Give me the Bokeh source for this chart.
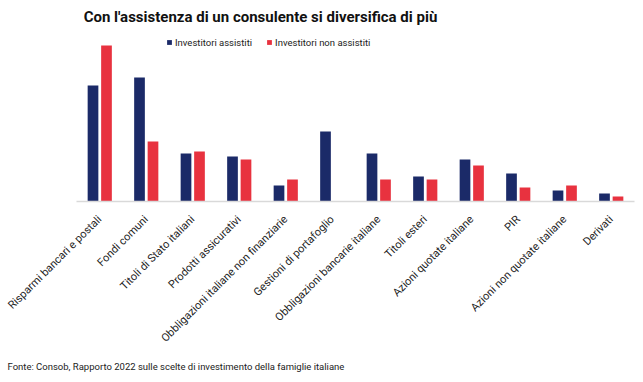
import math
from bokeh.plotting import figure
from bokeh.models import ColumnDataSource, Range1d, Label, Legend, LegendItem, Title
from bokeh.transform import dodge
from bokeh.embed import file_html
from bokeh.resources import INLINE

categories = [
    "Risparmi bancari e postali",
    "Fondi comuni",
    "Titoli di Stato italiani",
    "Prodotti assicurativi",
    "Obbligazioni italiane non finanziarie",
    "Gestioni di portafoglio",
    "Obbligazioni bancarie italiane",
    "Titoli esteri",
    "Azioni quotate italiane",
    "PIR",
    "Azioni non quotate italiane",
    "Derivati",
]
assistiti = [58, 62, 24, 22.5, 8, 35, 24, 12.5, 21, 14, 5.5, 4]
non_assistiti = [78, 30, 25, 21, 11, 0, 11, 11, 18, 7, 8, 2.5]

series_names = ["Investitori assistiti", "Investitori non assistiti"]
title_text = "Con l'assistenza di un consulente si diversifica di più"
source_text = "Fonte: Consob, Rapporto 2022 sulle scelte di investimento della famiglie italiane"

BLUE = "#1b2a68"
RED = "#e8323f"
FONT = "Roboto"

src = ColumnDataSource(dict(cat=categories, a=assistiti, n=non_assistiti))

p = figure(
    x_range=categories,
    y_range=Range1d(0, 100.5),
    width=643,
    height=382,
    output_backend="svg",
    toolbar_location=None,
    min_border_left=76,
    min_border_right=9,
    min_border_top=0,
    min_border_bottom=181,
)
p.outline_line_color = None
p.xgrid.grid_line_color = None
p.ygrid.grid_line_color = None
p.yaxis.visible = False

r1 = p.vbar(x=dodge("cat", -0.145, range=p.x_range), top="a", width=0.23,
            source=src, fill_color=BLUE, line_color=None)
r2 = p.vbar(x=dodge("cat", 0.145, range=p.x_range), top="n", width=0.23,
            source=src, fill_color=RED, line_color=None)

ax = p.xaxis[0]
ax.axis_line_color = "#d9d9d9"
ax.axis_line_width = 1.5
ax.major_tick_line_color = None
ax.minor_tick_line_color = None
ax.major_label_orientation = math.pi / 4
ax.major_label_text_font = FONT
ax.major_label_text_font_size = "11px"
ax.major_label_text_color = "#222222"
ax.major_label_standoff = 10

legend = Legend(
    items=[LegendItem(label=series_names[0], renderers=[r1]),
           LegendItem(label=series_names[1], renderers=[r2])],
    orientation="horizontal",
    location=(90, 153),
    border_line_alpha=0,
    background_fill_alpha=0,
    glyph_width=6,
    glyph_height=6,
    label_height=12,
    label_standoff=3,
    spacing=14,
    padding=0,
    margin=0,
    label_text_font=FONT,
    label_text_font_size="9.5px",
    label_text_color="#222222",
)
p.add_layout(legend, "center")

p.add_layout(Label(x=184, y=185, x_units="screen", y_units="screen",
                   text=title_text, text_align="center", text_baseline="middle",
                   text_font=FONT, text_font_size="15px", text_font_style="bold",
                   text_color="#111111"))

footer = Title(text=source_text, align="left", offset=-69, standoff=13,
               text_font=FONT, text_font_size="9.5px", text_font_style="normal",
               text_color="#222222")
p.add_layout(footer, "below")

open("out.html", "w").write(file_html(p, INLINE))
